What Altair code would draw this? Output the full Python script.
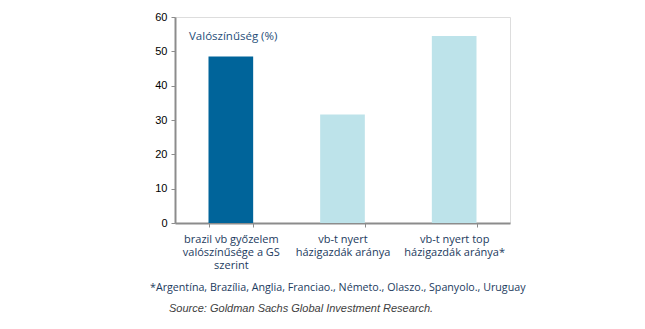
import altair as alt
import pandas as pd

categories = ["brazil vb győzelem|valószínűsége a GS|szerint",
              "vb-t nyert|házigazdák aránya",
              "vb-t nyert top|házigazdák aránya*"]
values = [48.5, 31.6, 54.5]
colors = ["#00649A", "#BDE3EA", "#BDE3EA"]
y_ticks = [0, 10, 20, 30, 40, 50, 60]
title_text = "Valószínűség (%)"
footnote = "*Argentína, Brazília, Anglia, Franciao., Németo., Olaszo., Spanyolo., Uruguay"
source = "Source: Goldman Sachs Global Investment Research."

df = pd.DataFrame({"cat": categories, "val": values, "color": colors})

W, H = 335, 206

bars = alt.Chart(df).mark_bar().encode(
    x=alt.X("cat:N", sort=categories,
            scale=alt.Scale(paddingInner=0.6, paddingOuter=0.3),
            axis=alt.Axis(title=None, labelAngle=0, tickBand="extent",
                          labelExpr="isValid(datum.value) ? split(datum.value, '|') : ''",
                          labelFont="Open Sans", labelFontSize=11,
                          labelColor="#1C3B5E", labelPadding=6,
                          labelLineHeight=13,
                          domainColor="#8C8C8C", domainWidth=2,
                          tickColor="#8C8C8C", tickSize=4, tickWidth=1)),
    y=alt.Y("val:Q", scale=alt.Scale(domain=[0, 60]),
            axis=alt.Axis(title=None, values=y_ticks, grid=False,
                          labelFont="Liberation Sans", labelFontSize=11,
                          labelColor="#000000", labelPadding=4,
                          domainColor="#8C8C8C", domainWidth=2,
                          tickColor="#8C8C8C", tickSize=4, tickWidth=1)),
    color=alt.Color("color:N", scale=None),
)

label = alt.Chart(pd.DataFrame({"t": [title_text]})).mark_text(
    align="left", baseline="middle", font="Open Sans", fontSize=11.5,
    color="#1F4E79").encode(x=alt.value(14), y=alt.value(20), text="t:N")

foot = alt.Chart(pd.DataFrame({"t": [footnote]})).mark_text(
    align="left", baseline="middle", font="Open Sans", fontSize=10.7,
    color="#1C3B5E").encode(x=alt.value(-25), y=alt.value(271), text="t:N")

src = alt.Chart(pd.DataFrame({"t": [source]})).mark_text(
    align="left", baseline="middle", font="Liberation Sans", fontSize=11,
    fontStyle="italic", color="#404040").encode(
    x=alt.value(-6), y=alt.value(292), text="t:N")

chart = alt.layer(bars, label, foot, src).properties(
    width=W, height=H,
    autosize=alt.AutoSizeParams(type="none"),
    padding={"left": 175, "top": 17, "right": 135, "bottom": 106},
).configure_view(stroke="#000000", strokeWidth=1).configure(background="white")

chart.save("out.html", embed_options={"renderer": "svg", "actions": False})
